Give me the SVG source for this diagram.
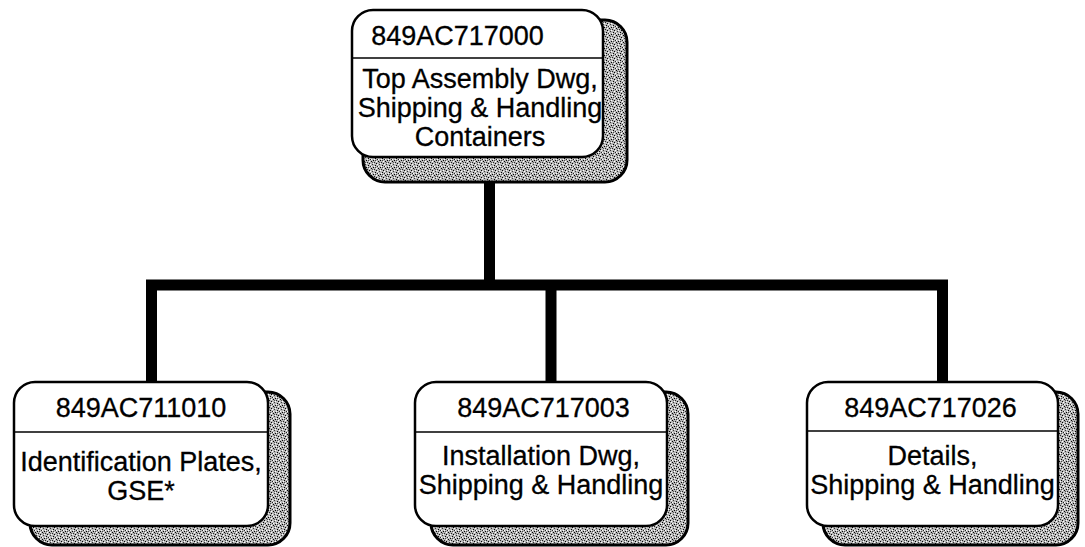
<svg xmlns="http://www.w3.org/2000/svg" width="1085" height="547" viewBox="0 0 1085 547">
<defs>
<pattern id="stip" width="7" height="7" patternUnits="userSpaceOnUse">
<rect width="7" height="7" fill="#b8b8b8"/>
<rect x="0" y="0" width="1" height="1" fill="#000"/>
<rect x="3" y="1" width="1" height="1" fill="#222"/>
<rect x="5" y="2" width="1" height="1" fill="#000"/>
<rect x="1" y="3" width="1" height="1" fill="#333"/>
<rect x="4" y="4" width="1" height="1" fill="#000"/>
<rect x="6" y="5" width="1" height="1" fill="#222"/>
<rect x="2" y="6" width="1" height="1" fill="#000"/>
<rect x="0" y="5" width="1" height="1" fill="#fff"/>
<rect x="2" y="2" width="1" height="1" fill="#fff"/>
<rect x="5" y="0" width="1" height="1" fill="#fff"/>
<rect x="6" y="3" width="1" height="1" fill="#fff"/>
<rect x="3" y="5" width="1" height="1" fill="#fff"/>
<rect x="1" y="1" width="1" height="1" fill="#555"/>
<rect x="4" y="6" width="1" height="1" fill="#444"/>
</pattern>
</defs>
<style>
.shadow{fill:url(#stip);stroke:#000;stroke-width:3}
.box{fill:#fff;stroke:#000;stroke-width:2.5}
.div{stroke:#000;stroke-width:1.5}
.t{font-family:"Liberation Sans",Arial,Helvetica,sans-serif;font-size:27px;fill:#000;text-anchor:middle;stroke:#000;stroke-width:0.3}
.conn{stroke:#000;stroke-width:11;fill:none;stroke-linecap:butt}
</style>
<rect width="1085" height="547" fill="#fff"/>
<g id="connectors">
<line class="conn" x1="489.5" y1="180" x2="489.5" y2="285"/>
<line class="conn" x1="146" y1="285" x2="948" y2="285"/>
<line class="conn" x1="151.5" y1="280" x2="151.5" y2="384"/>
<line class="conn" x1="551" y1="280" x2="551" y2="384"/>
<line class="conn" x1="942.5" y1="280" x2="942.5" y2="384"/>
</g>
<g id="node-top">
<rect class="shadow" x="363" y="20" width="264" height="162" rx="22"/>
<rect class="box" x="352" y="10" width="251" height="147" rx="21"/>
<line class="div" x1="352" y1="58" x2="603" y2="58"/>
<text class="t" x="457.5" y="45">849AC717000</text>
<text class="t" x="480" y="88">Top Assembly Dwg,</text>
<text class="t" x="480" y="117">Shipping &amp; Handling</text>
<text class="t" x="480" y="146">Containers</text>
</g>
<g id="node-left">
<rect class="shadow" x="30" y="392" width="260" height="153" rx="22"/>
<rect class="box" x="14" y="382" width="254" height="144" rx="21"/>
<line class="div" x1="14" y1="432" x2="268" y2="432"/>
<text class="t" x="141" y="417">849AC711010</text>
<text class="t" x="141" y="471">Identification Plates,</text>
<text class="t" x="141" y="500">GSE*</text>
</g>
<g id="node-middle">
<rect class="shadow" x="431" y="392" width="257" height="153" rx="22"/>
<rect class="box" x="415" y="382" width="252" height="144" rx="21"/>
<line class="div" x1="415" y1="432" x2="667" y2="432"/>
<text class="t" x="543.5" y="417">849AC717003</text>
<text class="t" x="541" y="465">Installation Dwg,</text>
<text class="t" x="541" y="494">Shipping &amp; Handling</text>
</g>
<g id="node-right">
<rect class="shadow" x="823" y="392" width="255" height="153" rx="22"/>
<rect class="box" x="807" y="382" width="251" height="144" rx="21"/>
<line class="div" x1="807" y1="431" x2="1058" y2="431"/>
<text class="t" x="930.5" y="417">849AC717026</text>
<text class="t" x="932.5" y="465">Details,</text>
<text class="t" x="932.5" y="494">Shipping &amp; Handling</text>
</g>
</svg>
